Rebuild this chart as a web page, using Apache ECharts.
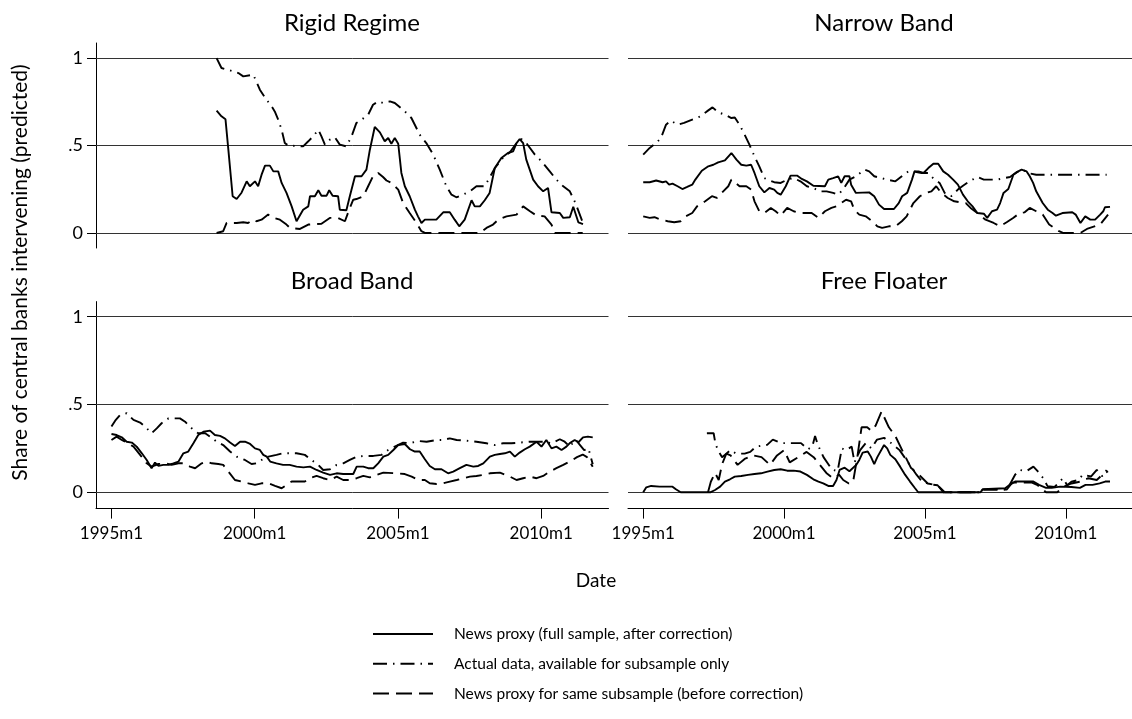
<!DOCTYPE html>
<html><head><meta charset="utf-8">
<script src="https://cdn.jsdelivr.net/npm/echarts@6/dist/echarts.min.js"></script>
<style>html,body{margin:0;padding:0;background:#fff}#c{width:1132px;height:719px}</style>
</head><body><div id="c"></div>
<script>
// ---------- DATA (x = fractional year, y = share) ----------
const panelTitles = ['Rigid Regime', 'Narrow Band', 'Broad Band', 'Free Floater'];
const seriesNames = ['News proxy (full sample, after correction)', 'Actual data, available for subsample only', 'News proxy for same subsample (before correction)'];
const xTickValues = [1995, 2000, 2005, 2010];
const yTickValues = [0, 0.5, 1];
const yAxisTitle = 'Share of central banks intervening (predicted)';
const xAxisTitle = 'Date';

const rigidNews = [[1998.67,0.70],[1998.84,0.667],[1998.98,0.65],[1999.08,0.476],[1999.23,0.21],[1999.37,0.194],[1999.54,0.23],[1999.72,0.295],[1999.83,0.267],[2000.01,0.295],[2000.12,0.267],[2000.24,0.333],[2000.36,0.385],[2000.53,0.385],[2000.65,0.352],[2000.82,0.352],[2000.94,0.286],[2001.11,0.229],[2001.29,0.152],[2001.46,0.067],[2001.69,0.133],[2001.87,0.152],[2001.93,0.21],[2002.10,0.21],[2002.22,0.244],[2002.33,0.213],[2002.51,0.213],[2002.60,0.244],[2002.72,0.213],[2002.91,0.21],[2002.97,0.133],[2003.20,0.13],[2003.32,0.21],[2003.50,0.324],[2003.73,0.324],[2003.90,0.362],[2004.02,0.476],[2004.19,0.606],[2004.37,0.575],[2004.54,0.524],[2004.66,0.543],[2004.77,0.51],[2004.89,0.543],[2005.01,0.51],[2005.12,0.343],[2005.24,0.267],[2005.41,0.21],[2005.59,0.133],[2005.70,0.095],[2005.82,0.057],[2005.94,0.076],[2006.34,0.076],[2006.58,0.118],[2006.81,0.118],[2006.98,0.076],[2007.14,0.038],[2007.33,0.076],[2007.57,0.187],[2007.68,0.152],[2007.86,0.152],[2008.03,0.187],[2008.20,0.229],[2008.38,0.371],[2008.61,0.429],[2008.84,0.457],[2009.02,0.467],[2009.14,0.514],[2009.25,0.537],[2009.37,0.514],[2009.48,0.419],[2009.72,0.305],[2009.89,0.267],[2010.07,0.238],[2010.24,0.257],[2010.36,0.118],[2010.65,0.114],[2010.77,0.086],[2011.00,0.09],[2011.12,0.15],[2011.30,0.06],[2011.46,0.05]];
const rigidActual = [[1998.67,1.0],[1998.84,0.943],[1999.25,0.924],[1999.43,0.914],[1999.60,0.895],[1999.95,0.905],[2000.18,0.819],[2000.41,0.762],[2000.59,0.724],[2000.70,0.695],[2000.82,0.648],[2000.94,0.59],[2001.05,0.514],[2001.17,0.50],[2001.69,0.495],[2001.87,0.524],[2002.04,0.552],[2002.22,0.59],[2002.33,0.552],[2002.45,0.505],[2002.62,0.533],[2002.80,0.547],[2002.97,0.505],[2003.20,0.495],[2003.38,0.552],[2003.55,0.629],[2003.73,0.648],[2003.96,0.676],[2004.13,0.733],[2004.31,0.752],[2004.48,0.743],[2004.72,0.752],[2004.89,0.743],[2005.24,0.695],[2005.47,0.657],[2005.76,0.562],[2005.99,0.514],[2006.23,0.448],[2006.46,0.362],[2006.69,0.267],[2006.87,0.219],[2007.04,0.204],[2007.27,0.219],[2007.51,0.238],[2007.74,0.267],[2008.03,0.267],[2008.38,0.37],[2008.67,0.43],[2008.90,0.46],[2009.14,0.514],[2009.31,0.537],[2009.48,0.514],[2009.78,0.448],[2010.01,0.41],[2010.30,0.352],[2010.53,0.305],[2010.77,0.267],[2011.00,0.238],[2011.20,0.17],[2011.45,0.06]];
const rigidSub = [[1998.67,0.0],[1998.90,0.01],[1999.02,0.057],[1999.37,0.057],[1999.60,0.061],[1999.77,0.057],[1999.95,0.076],[2000.06,0.067],[2000.24,0.076],[2000.47,0.105],[2000.59,0.09],[2000.88,0.076],[2001.11,0.048],[2001.23,0.029],[2001.58,0.023],[2001.87,0.048],[2002.33,0.053],[2002.62,0.086],[2002.91,0.086],[2003.15,0.067],[2003.32,0.143],[2003.44,0.19],[2003.55,0.194],[2003.79,0.21],[2003.96,0.267],[2004.13,0.324],[2004.31,0.343],[2004.48,0.32],[2004.60,0.30],[2004.77,0.286],[2005.01,0.248],[2005.18,0.171],[2005.41,0.114],[2005.65,0.057],[2005.82,0.01],[2005.94,0.0],[2007.86,0.0],[2008.09,0.029],[2008.32,0.048],[2008.50,0.076],[2008.79,0.095],[2009.14,0.105],[2009.37,0.152],[2009.61,0.124],[2009.84,0.099],[2010.12,0.095],[2010.36,0.048],[2010.47,0.0],[2011.45,0.0]];

const narrowNews = [[1995.00,0.29],[1995.23,0.29],[1995.46,0.30],[1995.69,0.29],[1995.81,0.295],[1995.92,0.276],[1996.04,0.282],[1996.22,0.267],[1996.39,0.251],[1996.56,0.263],[1996.74,0.276],[1996.85,0.305],[1997.08,0.356],[1997.31,0.381],[1997.49,0.39],[1997.66,0.404],[1997.90,0.415],[1998.13,0.457],[1998.31,0.419],[1998.48,0.39],[1998.66,0.385],[1998.83,0.39],[1998.95,0.343],[1999.12,0.267],[1999.30,0.232],[1999.48,0.257],[1999.65,0.248],[1999.76,0.229],[1999.88,0.219],[2000.06,0.267],[2000.23,0.328],[2000.46,0.328],[2000.63,0.309],[2000.81,0.295],[2001.04,0.27],[2001.45,0.267],[2001.57,0.305],[2001.74,0.314],[2001.92,0.324],[2002.03,0.286],[2002.15,0.324],[2002.32,0.324],[2002.38,0.276],[2002.55,0.229],[2003.02,0.232],[2003.20,0.21],[2003.37,0.162],[2003.55,0.137],[2003.90,0.137],[2004.07,0.171],[2004.19,0.21],[2004.37,0.229],[2004.54,0.305],[2004.63,0.352],[2004.77,0.352],[2004.95,0.343],[2005.12,0.371],[2005.30,0.396],[2005.47,0.396],[2005.65,0.352],[2005.82,0.333],[2006.00,0.305],[2006.17,0.276],[2006.35,0.219],[2006.52,0.181],[2006.69,0.152],[2006.86,0.114],[2007.09,0.11],[2007.21,0.086],[2007.38,0.124],[2007.56,0.133],[2007.67,0.171],[2007.79,0.229],[2007.96,0.251],[2008.14,0.333],[2008.31,0.352],[2008.43,0.362],[2008.61,0.352],[2008.72,0.324],[2008.84,0.286],[2008.95,0.238],[2009.18,0.171],[2009.36,0.133],[2009.53,0.114],[2009.65,0.099],[2009.88,0.114],[2010.23,0.118],[2010.35,0.105],[2010.52,0.057],[2010.69,0.095],[2010.87,0.076],[2011.04,0.076],[2011.22,0.105],[2011.33,0.124],[2011.39,0.147],[2011.57,0.149]];
const narrowActual = [[1995.00,0.448],[1995.23,0.486],[1995.46,0.514],[1995.63,0.543],[1995.81,0.619],[1995.98,0.642],[1996.22,0.619],[1996.45,0.629],[1996.74,0.648],[1997.03,0.667],[1997.26,0.695],[1997.46,0.718],[1997.66,0.69],[1997.90,0.676],[1998.13,0.657],[1998.25,0.66],[1998.42,0.619],[1998.60,0.562],[1998.77,0.505],[1998.95,0.438],[1999.12,0.381],[1999.30,0.314],[1999.41,0.305],[1999.65,0.29],[1999.88,0.286],[2000.11,0.305],[2000.34,0.314],[2000.58,0.295],[2000.81,0.267],[2001.04,0.257],[2001.27,0.238],[2001.51,0.238],[2001.74,0.229],[2001.92,0.219],[2002.09,0.248],[2002.32,0.305],[2002.55,0.324],[2002.85,0.362],[2003.02,0.352],[2003.20,0.324],[2003.43,0.314],[2003.66,0.305],[2003.95,0.295],[2004.18,0.324],[2004.41,0.352],[2004.59,0.352],[2004.88,0.343],[2005.11,0.343],[2005.34,0.305],[2005.52,0.286],[2005.70,0.229],[2005.93,0.21],[2006.17,0.248],[2006.35,0.27],[2006.58,0.295],[2006.86,0.32],[2007.09,0.305],[2007.56,0.305],[2008.02,0.32],[2008.25,0.347],[2008.49,0.36],[2008.72,0.34],[2008.95,0.333],[2011.45,0.333]];
const narrowSub = [[1995.00,0.095],[1995.23,0.086],[1995.40,0.09],[1995.63,0.076],[1995.87,0.067],[1996.10,0.061],[1996.33,0.067],[1996.51,0.095],[1996.74,0.114],[1996.91,0.152],[1997.20,0.181],[1997.44,0.21],[1997.61,0.20],[1997.84,0.238],[1998.02,0.267],[1998.13,0.305],[1998.25,0.29],[1998.42,0.267],[1998.66,0.267],[1998.83,0.248],[1998.95,0.181],[1999.12,0.124],[1999.30,0.114],[1999.53,0.143],[1999.70,0.124],[1999.88,0.099],[2000.11,0.143],[2000.34,0.124],[2000.58,0.114],[2000.98,0.114],[2001.22,0.086],[2001.45,0.124],[2001.68,0.143],[2001.86,0.152],[2002.03,0.171],[2002.20,0.19],[2002.38,0.181],[2002.49,0.133],[2002.67,0.105],[2002.90,0.095],[2003.13,0.067],[2003.31,0.038],[2003.48,0.029],[2003.72,0.038],[2003.95,0.038],[2004.18,0.067],[2004.35,0.095],[2004.59,0.171],[2004.82,0.21],[2005.05,0.229],[2005.23,0.238],[2005.40,0.267],[2005.58,0.229],[2005.81,0.20],[2006.04,0.181],[2006.27,0.175],[2006.45,0.171],[2006.62,0.143],[2006.86,0.114],[2007.15,0.076],[2007.44,0.057],[2007.67,0.038],[2007.90,0.061],[2008.13,0.086],[2008.37,0.114],[2008.54,0.118],[2008.72,0.143],[2008.95,0.124],[2009.18,0.105],[2009.41,0.048],[2009.59,0.029],[2009.76,0.01],[2009.90,0.0],[2010.52,0.0],[2010.75,0.023],[2011.22,0.048],[2011.50,0.105]];

const broadNews = [[1995.00,0.332],[1995.18,0.326],[1995.36,0.313],[1995.53,0.288],[1995.71,0.283],[1995.88,0.26],[1996.06,0.222],[1996.23,0.184],[1996.40,0.137],[1996.52,0.169],[1996.64,0.15],[1996.81,0.156],[1996.99,0.156],[1997.16,0.165],[1997.34,0.175],[1997.51,0.222],[1997.68,0.232],[1997.86,0.279],[1998.03,0.326],[1998.21,0.345],[1998.44,0.351],[1998.61,0.326],[1998.79,0.321],[1998.96,0.307],[1999.14,0.283],[1999.31,0.264],[1999.49,0.288],[1999.66,0.288],[1999.84,0.275],[2000.01,0.25],[2000.18,0.241],[2000.30,0.213],[2000.42,0.203],[2000.54,0.175],[2000.76,0.165],[2000.99,0.156],[2001.22,0.156],[2001.46,0.146],[2001.70,0.142],[2001.93,0.146],[2002.16,0.127],[2002.39,0.112],[2002.63,0.099],[2002.86,0.108],[2003.09,0.104],[2003.44,0.104],[2003.56,0.146],[2003.79,0.146],[2003.96,0.137],[2004.14,0.137],[2004.31,0.165],[2004.49,0.203],[2004.66,0.213],[2004.84,0.241],[2005.01,0.269],[2005.24,0.275],[2005.42,0.245],[2005.59,0.232],[2005.76,0.232],[2005.94,0.188],[2006.11,0.15],[2006.29,0.131],[2006.52,0.131],[2006.75,0.108],[2006.93,0.118],[2007.16,0.137],[2007.39,0.156],[2007.63,0.146],[2007.80,0.15],[2007.98,0.165],[2008.21,0.203],[2008.38,0.213],[2008.56,0.218],[2008.73,0.222],[2008.91,0.232],[2009.08,0.203],[2009.25,0.226],[2009.43,0.245],[2009.60,0.26],[2009.84,0.288],[2010.01,0.26],[2010.18,0.298],[2010.36,0.25],[2010.53,0.26],[2010.71,0.241],[2010.88,0.26],[2011.00,0.28],[2011.17,0.298],[2011.30,0.285],[2011.46,0.313],[2011.63,0.317],[2011.80,0.313]];
const broadActual = [[1995.00,0.374],[1995.13,0.408],[1995.30,0.44],[1995.53,0.45],[1995.77,0.412],[1996.00,0.397],[1996.17,0.374],[1996.40,0.336],[1996.58,0.364],[1996.75,0.393],[1996.99,0.421],[1997.22,0.421],[1997.39,0.421],[1997.57,0.402],[1997.74,0.374],[1997.86,0.355],[1998.03,0.336],[1998.27,0.336],[1998.44,0.317],[1998.67,0.288],[1998.90,0.269],[1999.14,0.232],[1999.37,0.203],[1999.66,0.184],[1999.89,0.161],[2000.07,0.165],[2000.24,0.184],[2000.48,0.203],[2000.76,0.213],[2000.99,0.222],[2001.46,0.222],[2001.75,0.213],[2001.98,0.184],[2002.22,0.156],[2002.39,0.127],[2002.63,0.131],[2002.86,0.156],[2003.09,0.165],[2003.32,0.184],[2003.56,0.203],[2003.85,0.207],[2004.14,0.207],[2004.43,0.213],[2004.66,0.241],[2004.89,0.26],[2005.18,0.283],[2005.42,0.28],[2005.71,0.292],[2006.00,0.288],[2006.35,0.298],[2006.58,0.298],[2006.81,0.307],[2007.05,0.298],[2007.39,0.294],[2007.74,0.288],[2008.09,0.279],[2008.38,0.269],[2008.67,0.279],[2008.96,0.279],[2009.25,0.283],[2009.60,0.288],[2010.07,0.288],[2010.36,0.279],[2010.65,0.302],[2010.82,0.288],[2011.00,0.26],[2011.20,0.30],[2011.35,0.27],[2011.50,0.24],[2011.65,0.25],[2011.80,0.16]];
const broadSub = [[1995.00,0.298],[1995.18,0.317],[1995.36,0.298],[1995.53,0.283],[1995.77,0.26],[1996.00,0.213],[1996.23,0.165],[1996.40,0.146],[1996.64,0.161],[1996.87,0.165],[1997.10,0.156],[1997.34,0.165],[1997.51,0.165],[1997.74,0.146],[1997.92,0.137],[1998.15,0.165],[1998.32,0.175],[1998.50,0.165],[1998.73,0.161],[1998.90,0.156],[1999.08,0.118],[1999.31,0.07],[1999.54,0.061],[1999.78,0.051],[2000.01,0.042],[2000.24,0.051],[2000.48,0.051],[2000.71,0.036],[2000.94,0.023],[2001.11,0.042],[2001.29,0.061],[2001.75,0.061],[2001.93,0.08],[2002.16,0.093],[2002.39,0.08],[2002.63,0.07],[2002.86,0.089],[2003.09,0.07],[2003.32,0.07],[2003.56,0.08],[2003.79,0.093],[2004.02,0.085],[2004.25,0.099],[2004.49,0.112],[2004.95,0.108],[2005.24,0.104],[2005.48,0.089],[2005.71,0.07],[2005.94,0.07],[2006.11,0.051],[2006.35,0.047],[2006.58,0.051],[2006.81,0.061],[2007.05,0.07],[2007.28,0.08],[2007.51,0.089],[2007.74,0.093],[2007.98,0.099],[2008.21,0.108],[2008.56,0.112],[2008.91,0.089],[2009.14,0.07],[2009.37,0.08],[2009.60,0.089],[2009.84,0.08],[2010.07,0.093],[2010.30,0.118],[2010.53,0.137],[2010.77,0.156],[2011.00,0.175],[2011.25,0.20],[2011.45,0.215],[2011.60,0.20],[2011.80,0.145]];

const freeNews = [[1995.00,0.0],[1995.11,0.028],[1995.28,0.036],[1995.58,0.032],[1996.04,0.032],[1996.16,0.017],[1996.33,0.0],[1997.38,0.0],[1997.55,0.013],[1997.73,0.032],[1997.90,0.061],[1998.08,0.074],[1998.25,0.089],[1998.48,0.093],[1998.72,0.099],[1998.95,0.104],[1999.18,0.108],[1999.41,0.118],[1999.65,0.127],[1999.88,0.131],[2000.11,0.123],[2000.34,0.123],[2000.58,0.118],[2000.81,0.099],[2001.04,0.074],[2001.22,0.061],[2001.39,0.051],[2001.57,0.036],[2001.74,0.036],[2001.86,0.07],[2001.97,0.127],[2002.15,0.14],[2002.32,0.12],[2002.56,0.156],[2002.67,0.184],[2002.79,0.226],[2002.97,0.232],[2003.08,0.203],[2003.20,0.16],[2003.31,0.20],[2003.55,0.269],[2003.66,0.25],[2003.77,0.213],[2003.95,0.188],[2004.12,0.146],[2004.30,0.099],[2004.47,0.061],[2004.65,0.023],[2004.76,0.0],[2006.97,0.0],[2007.05,0.017],[2007.85,0.023],[2008.00,0.042],[2008.20,0.061],[2008.50,0.061],[2008.85,0.061],[2009.05,0.042],[2009.30,0.025],[2009.50,0.025],[2009.80,0.032],[2010.20,0.03],[2010.50,0.025],[2010.70,0.042],[2010.95,0.042],[2011.20,0.051],[2011.40,0.061],[2011.57,0.061]];
const freeActual = [[1997.26,0.336],[1997.50,0.336],[1997.56,0.28],[1997.65,0.24],[1997.80,0.20],[1997.95,0.22],[1998.10,0.24],[1998.30,0.22],[1998.60,0.22],[1998.80,0.23],[1999.00,0.26],[1999.40,0.27],[1999.60,0.30],[1999.90,0.28],[2000.30,0.28],[2000.60,0.28],[2000.85,0.245],[2001.00,0.26],[2001.10,0.32],[2001.20,0.27],[2001.40,0.20],[2001.70,0.13],[2001.90,0.12],[2002.05,0.25],[2002.20,0.24],[2002.40,0.26],[2002.50,0.17],[2002.70,0.24],[2002.90,0.28],[2003.10,0.25],[2003.30,0.30],[2003.55,0.31],[2003.80,0.28],[2004.10,0.24],[2004.40,0.17],[2004.70,0.10],[2004.90,0.06],[2005.20,0.045],[2005.45,0.04],[2005.65,0.0],[2006.97,0.0],[2007.05,0.015],[2007.90,0.015],[2008.00,0.04],[2008.20,0.10],[2008.37,0.127],[2008.60,0.12],[2008.85,0.146],[2009.00,0.12],[2009.20,0.08],[2009.35,0.035],[2009.60,0.03],[2009.90,0.08],[2010.05,0.04],[2010.20,0.06],[2010.45,0.07],[2010.60,0.10],[2010.90,0.09],[2011.10,0.127],[2011.30,0.09],[2011.45,0.127]];
const freeSub = [[1997.30,0.0],[1997.40,0.06],[1997.55,0.11],[1997.68,0.07],[1997.80,0.16],[1997.95,0.22],[1998.10,0.21],[1998.35,0.156],[1998.60,0.19],[1998.90,0.21],[1999.20,0.20],[1999.50,0.156],[1999.75,0.21],[2000.00,0.24],[2000.20,0.17],[2000.50,0.20],[2000.80,0.23],[2001.05,0.20],[2001.27,0.156],[2001.50,0.11],[2001.74,0.08],[2001.95,0.10],[2002.10,0.07],[2002.30,0.05],[2002.45,0.06],[2002.60,0.20],[2002.75,0.37],[2002.95,0.37],[2003.10,0.35],[2003.25,0.38],[2003.46,0.46],[2003.72,0.37],[2003.95,0.32],[2004.25,0.22],[2004.50,0.14],[2004.85,0.09],[2005.10,0.05],[2005.45,0.04],[2005.70,0.0],[2006.97,0.0],[2007.05,0.015],[2007.90,0.015],[2008.10,0.055],[2008.80,0.055],[2009.00,0.04],[2009.30,0.0],[2009.70,0.0],[2009.90,0.03],[2010.20,0.05],[2010.50,0.06],[2010.80,0.08],[2011.10,0.07],[2011.30,0.10],[2011.50,0.12]];

const panelData = [
  [rigidNews, rigidActual, rigidSub],
  [narrowNews, narrowActual, narrowSub],
  [broadNews, broadActual, broadSub],
  [freeNews, freeActual, freeSub]
];

// ---------- STYLE / LAYOUT ----------
const FONT = 'Lato';
const lineTypes = ['solid', [14, 6, 1.5, 6], [16, 7]];
const grids = [
  {left: 96, top: 43, width: 512.5, height: 205},
  {left: 628, top: 43, width: 512.5, height: 205},
  {left: 96, top: 301.6, width: 512.5, height: 207},
  {left: 628, top: 301.6, width: 512.5, height: 207}
];
const yRanges = [[-0.086, 1.086], [-0.086, 1.086], [-0.093, 1.086], [-0.093, 1.086]];
const titlePos = [[352, 23], [884, 23], [352, 281.7], [884, 281.7]];

const xAxes = grids.map((g, i) => {
  const bottom = i >= 2;
  return {
    type: 'value', gridIndex: i, min: 1994.46, max: 2012.35, show: bottom,
    axisLine: {show: bottom, onZero: false, lineStyle: {color: '#000', width: 1}},
    axisTick: {show: bottom, customValues: xTickValues, length: 10, lineStyle: {color: '#000', width: 1}},
    axisLabel: {show: bottom, customValues: xTickValues, formatter: v => Math.round(v) + 'm1',
      margin: 16, fontSize: 17, fontFamily: FONT, color: '#000'},
    splitLine: {show: false}
  };
});
const yAxes = grids.map((g, i) => {
  const left = i % 2 === 0;
  return {
    type: 'value', gridIndex: i, min: yRanges[i][0], max: yRanges[i][1], show: left,
    axisLine: {show: left, onZero: false, lineStyle: {color: '#000', width: 1}},
    axisTick: {show: left, customValues: yTickValues, length: 9, lineStyle: {color: '#000', width: 1}},
    axisLabel: {show: left, customValues: yTickValues, formatter: v => (Math.abs(v - 0.5) < 1e-9 ? '.5' : String(Math.round(v))),
      margin: 13, fontSize: 18, fontFamily: FONT, color: '#000'},
    splitLine: {show: false}
  };
});

const series = [];
panelData.forEach((arr, p) => {
  arr.forEach((data, k) => {
    const s = {
      type: 'line', name: seriesNames[k], xAxisIndex: p, yAxisIndex: p, data: data,
      showSymbol: false, symbol: 'none', silent: true, animation: false, z: 3,
      itemStyle: {color: '#000'},
      lineStyle: {color: '#000', width: 1.9, type: lineTypes[k]}
    };
    if (k === 0) {
      s.markLine = {
        silent: true, symbol: 'none', label: {show: false}, animation: false, z: 1,
        lineStyle: {color: '#333', width: 1, type: 'solid'},
        data: yTickValues.map(v => ({yAxis: v}))
      };
    }
    series.push(s);
  });
});

const graphics = panelTitles.map((t, i) => ({
  type: 'text', x: titlePos[i][0], y: titlePos[i][1], silent: true,
  style: {text: t, fontSize: 24, fontFamily: FONT, fill: '#000', textAlign: 'center', textVerticalAlign: 'middle'}
}));
graphics.push({
  type: 'text', x: 596, y: 580.5, silent: true,
  style: {text: xAxisTitle, fontSize: 19, fontFamily: FONT, fill: '#000', textAlign: 'center', textVerticalAlign: 'middle'}
});
graphics.push({
  type: 'text', x: 20, y: 272.5, rotation: Math.PI / 2, silent: true,
  style: {text: yAxisTitle, fontSize: 21, fontFamily: FONT, fill: '#000', textAlign: 'center', textVerticalAlign: 'middle'}
});

const chart = echarts.init(document.getElementById('c'), null, {renderer: 'canvas'});
chart.setOption({
  backgroundColor: '#fff',
  animation: false,
  grid: grids,
  xAxis: xAxes,
  yAxis: yAxes,
  legend: {
    data: seriesNames, orient: 'vertical', left: 372, top: 626, selectedMode: false,
    itemWidth: 60, itemHeight: 14, itemGap: 13.8, padding: 0,
    itemStyle: {color: 'rgba(0,0,0,0)', borderWidth: 0, opacity: 0},
    lineStyle: {color: '#000', width: 2},
    textStyle: {fontFamily: FONT, fontSize: 15.5, color: '#000', lineHeight: 14, padding: [0, 0, 0, 16]}
  },
  graphic: graphics,
  series: series
});
</script></body></html>
